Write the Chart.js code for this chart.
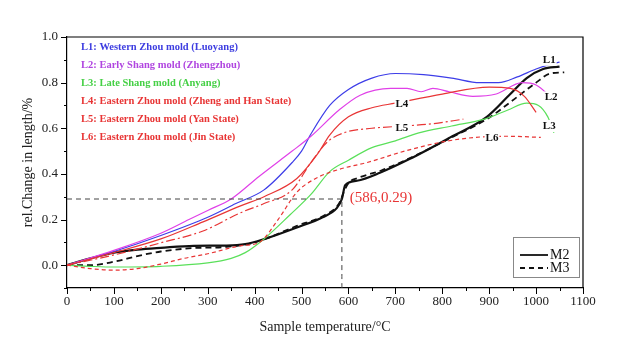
<!DOCTYPE html>
<html>
<head>
<meta charset="utf-8">
<script src="https://cdn.jsdelivr.net/npm/chart.js@4/dist/chart.umd.min.js"></script>
<style>
  html, body { margin: 0; padding: 0; background: #fff; }
  #wrap { width: 640px; height: 350px; }
</style>
</head>
<body>
<div id="wrap"><canvas id="chart" width="640" height="350"></canvas></div>
<script>
// ---- data ----
const l1Temp = [0, 100, 200, 300, 360, 420, 480, 500, 520, 560, 600, 650, 700, 760, 820, 880, 920, 960, 1000, 1030, 1050];
const l1Val  = [0, 0.06, 0.13, 0.21, 0.27, 0.33, 0.45, 0.50, 0.575, 0.70, 0.77, 0.82, 0.84, 0.835, 0.82, 0.80, 0.80, 0.825, 0.86, 0.88, 0.89];

const l2Temp = [0, 100, 200, 260, 300, 350, 410, 480, 520, 580, 625, 690, 725, 755, 780, 815, 865, 915, 970, 1000, 1035];
const l2Val  = [0, 0.065, 0.14, 0.20, 0.24, 0.29, 0.39, 0.50, 0.565, 0.68, 0.745, 0.775, 0.775, 0.76, 0.775, 0.76, 0.74, 0.75, 0.80, 0.79, 0.73];

const l3Temp = [0, 50, 100, 200, 300, 350, 380, 420, 475, 520, 560, 600, 650, 700, 750, 820, 890, 940, 980, 1005, 1025, 1038];
const l3Val  = [0, -0.005, -0.008, -0.005, 0.01, 0.03, 0.055, 0.115, 0.22, 0.31, 0.41, 0.46, 0.515, 0.545, 0.58, 0.61, 0.64, 0.68, 0.71, 0.70, 0.65, 0.58];

const l4Temp = [0, 100, 200, 290, 370, 420, 490, 535, 560, 600, 650, 700, 800, 900, 945, 975, 1000];
const l4Val  = [0, 0.055, 0.115, 0.19, 0.26, 0.30, 0.38, 0.49, 0.57, 0.65, 0.69, 0.71, 0.75, 0.78, 0.775, 0.74, 0.67];

const l5Temp = [0, 100, 200, 290, 370, 420, 480, 520, 555, 590, 650, 720, 780, 845];
const l5Val  = [0, 0.045, 0.098, 0.15, 0.23, 0.27, 0.33, 0.45, 0.54, 0.58, 0.60, 0.61, 0.62, 0.64];

const l6Temp = [0, 50, 100, 150, 200, 250, 300, 370, 410, 450, 490, 530, 580, 640, 720, 800, 870, 940, 1010];
const l6Val  = [0, -0.015, -0.022, -0.015, 0.005, 0.03, 0.05, 0.085, 0.10, 0.20, 0.32, 0.38, 0.42, 0.45, 0.50, 0.54, 0.56, 0.565, 0.56];

const m2Temp = [0, 50, 100, 150, 200, 270, 340, 380, 420, 490, 545, 575, 586, 593, 618, 667, 730, 817, 895, 945, 980, 1015, 1050];
const m2Val  = [0, 0.03, 0.055, 0.068, 0.076, 0.085, 0.086, 0.092, 0.114, 0.165, 0.21, 0.25, 0.29, 0.35, 0.37, 0.405, 0.465, 0.56, 0.65, 0.75, 0.82, 0.86, 0.87];

const m3Temp = [0, 50, 100, 150, 200, 270, 340, 400, 490, 550, 580, 590, 600, 620, 670, 730, 820, 895, 955, 1000, 1030, 1060];
const m3Val  = [0, 0.0, 0.015, 0.04, 0.06, 0.075, 0.08, 0.10, 0.172, 0.22, 0.27, 0.32, 0.36, 0.382, 0.415, 0.468, 0.56, 0.64, 0.73, 0.80, 0.84, 0.845];

const markTemp = 586;
const markVal = 0.29;

const legendLines = [
  'L1: Western Zhou mold (Luoyang)',
  'L2: Early Shang mold (Zhengzhou)',
  'L3: Late Shang mold (Anyang)',
  'L4: Eastern Zhou mold (Zheng and Han State)',
  'L5: Eastern Zhou mold (Yan State)',
  'L6: Eastern Zhou mold (Jin State)'
];
const legendColors = ['#3d3de0', '#b045e0', '#45d045', '#e83535', '#e83535', '#e83535'];

const curveTags = ['L1', 'L2', 'L3', 'L4', 'L5', 'L6'];
const tagTemp = [1028, 1032, 1028, 714, 714, 906];
const tagVal  = [0.90, 0.735, 0.61, 0.705, 0.60, 0.555];

const pts = (xs, ys) => xs.map((x, i) => ({ x, y: ys[i] }));

const FONT = "'Liberation Serif', 'DejaVu Serif', serif";

function line(data, color, width, dash) {
  return {
    data, borderColor: color, borderWidth: width, borderDash: dash || [],
    pointRadius: 0, fill: false, cubicInterpolationMode: 'monotone'
  };
}

// frame, ticks, labels and M2/M3 box
const decor = {
  id: 'decor',
  afterDraw(chart) {
    const { ctx, chartArea: a, scales } = chart;
    const xs = scales.x, ys = scales.y;
    ctx.save();

    // frame top + right
    ctx.strokeStyle = '#000';
    ctx.lineWidth = 1.2;
    ctx.beginPath();
    ctx.moveTo(a.left, a.top); ctx.lineTo(a.right, a.top); ctx.lineTo(a.right, a.bottom);
    ctx.stroke();

    // tick marks (major + minor)
    ctx.lineWidth = 1;
    xs.ticks.forEach(t => {
      const px = Math.round(xs.getPixelForValue(t.value)) + 0.5;
      const len = t.value % 100 === 0 ? 6 : 3;
      ctx.beginPath(); ctx.moveTo(px, a.bottom); ctx.lineTo(px, a.bottom + len); ctx.stroke();
    });
    ys.ticks.forEach(t => {
      const py = Math.round(ys.getPixelForValue(t.value)) + 0.5;
      const len = Math.round(t.value * 10) % 2 === 0 ? 6 : 3;
      ctx.beginPath(); ctx.moveTo(a.left, py); ctx.lineTo(a.left - len, py); ctx.stroke();
    });

    // series names, top left
    ctx.font = 'bold 10.5px ' + FONT;
    ctx.textBaseline = 'middle';
    ctx.textAlign = 'left';
    legendLines.forEach((s, i) => {
      ctx.fillStyle = legendColors[i];
      ctx.fillText(s, a.left + 14, a.top + 10 + i * 18);
    });

    // curve tags
    ctx.font = 'bold 11px ' + FONT;
    ctx.textAlign = 'center';
    curveTags.forEach((s, i) => {
      const px = xs.getPixelForValue(tagTemp[i]);
      const py = ys.getPixelForValue(tagVal[i]);
      const w = ctx.measureText(s).width;
      ctx.fillStyle = '#fff';
      ctx.fillRect(px - w / 2 - 1, py - 6, w + 2, 12);
      ctx.fillStyle = '#111';
      ctx.fillText(s, px, py);
    });

    // point annotation
    ctx.font = '15px ' + FONT;
    ctx.textAlign = 'left';
    ctx.fillStyle = '#e83535';
    ctx.fillText('(' + markTemp + ',' + markVal + ')', xs.getPixelForValue(603), ys.getPixelForValue(0.295));

    // M2 / M3 legend box
    const bx = a.right - 70, by = a.bottom - 51, bw = 66, bh = 40;
    ctx.strokeStyle = '#888';
    ctx.lineWidth = 1;
    ctx.strokeRect(bx + 0.5, by + 0.5, bw, bh);
    ctx.strokeStyle = '#111';
    ctx.lineWidth = 1.8;
    ctx.beginPath(); ctx.moveTo(bx + 7, by + 18); ctx.lineTo(bx + 35, by + 18); ctx.stroke();
    ctx.setLineDash([5, 4]);
    ctx.beginPath(); ctx.moveTo(bx + 7, by + 31); ctx.lineTo(bx + 35, by + 31); ctx.stroke();
    ctx.setLineDash([]);
    ctx.fillStyle = '#111';
    ctx.font = '14px ' + FONT;
    ctx.fillText('M2', bx + 37, by + 18);
    ctx.fillText('M3', bx + 37, by + 31);

    ctx.restore();
  }
};

new Chart(document.getElementById('chart').getContext('2d'), {
  type: 'line',
  data: {
    datasets: [
      line([{ x: 0, y: markVal }, { x: markTemp, y: markVal }], '#444', 1, [5, 4]),
      line([{ x: markTemp, y: -0.1 }, { x: markTemp, y: markVal }], '#444', 1, [5, 4]),
      line(pts(l6Temp, l6Val), '#e83535', 1.2, [4, 3]),
      line(pts(l5Temp, l5Val), '#e83535', 1.2, [9, 3, 2, 3]),
      line(pts(l4Temp, l4Val), '#e83535', 1.2),
      line(pts(l3Temp, l3Val), '#5ae05a', 1.2),
      line(pts(l2Temp, l2Val), '#e040e8', 1.2),
      line(pts(l1Temp, l1Val), '#3d3de8', 1.2),
      line(pts(m3Temp, m3Val), '#111', 1.8, [6, 4]),
      line(pts(m2Temp, m2Val), '#111', 2.2)
    ]
  },
  options: {
    responsive: false,
    animation: false,
    layout: { padding: { top: 37, right: 57, left: 0, bottom: 0 } },
    plugins: { legend: { display: false }, tooltip: { enabled: false } },
    scales: {
      x: {
        type: 'linear', min: 0, max: 1100,
        afterFit: s => { s.height = 62; },
        grid: { drawOnChartArea: false, drawTicks: false },
        border: { color: '#000', width: 1.2 },
        ticks: {
          stepSize: 50, autoSkip: false, maxRotation: 0, padding: 6,
          color: '#222', font: { family: FONT, size: 13 },
          callback: v => (v % 100 === 0 ? v : '')
        },
        title: {
          display: true, text: 'Sample temperature/°C', color: '#222',
          font: { family: FONT, size: 14 }, padding: { top: 4, bottom: 14 }
        }
      },
      y: {
        type: 'linear', min: -0.1, max: 1.0,
        afterFit: s => { s.width = 67; },
        grid: { drawOnChartArea: false, drawTicks: false },
        border: { color: '#000', width: 1.2 },
        ticks: {
          stepSize: 0.1, autoSkip: false, padding: 9,
          color: '#222', font: { family: FONT, size: 13 },
          callback: v => (Math.round(v * 10) % 2 === 0 ? v.toFixed(1) : '')
        },
        title: {
          display: true, text: 'rel.Change in length/%', color: '#222',
          font: { family: FONT, size: 14 }, padding: { top: 20, bottom: 0 }
        }
      }
    }
  },
  plugins: [decor]
});
</script>
</body>
</html>
